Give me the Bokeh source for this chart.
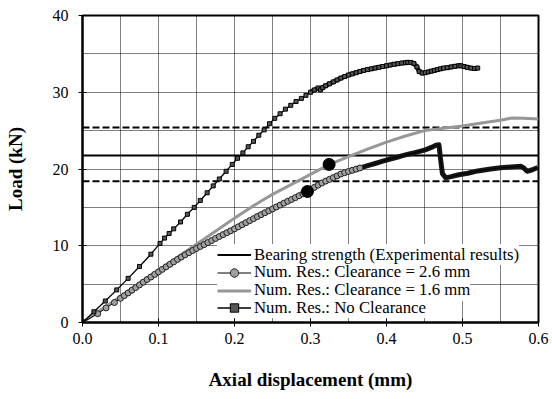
from bokeh.plotting import figure
from bokeh.models import (Range1d, FixedTicker, PrintfTickFormatter,
                          Legend, LegendItem)
from bokeh.embed import file_html
from bokeh.resources import INLINE

# ---------------- data ----------------
x_limits = [0.0, 0.6]
y_limits = [0.0, 40.0]
x_ticks = [0.0, 0.1, 0.2, 0.3, 0.4, 0.5, 0.6]
y_ticks = [0, 10, 20, 30, 40]
x_grid = [0.05, 0.1, 0.15, 0.2, 0.25, 0.3, 0.35, 0.4, 0.45, 0.5, 0.55]
y_grid = [5, 10, 15, 20, 25, 30, 35]

bearing_mean = 21.75
bearing_upper = 25.4
bearing_lower = 18.4

# Num. Res.: Clearance = 1.6 mm (grey line)
c16_x = [0, 0.025, 0.05, 0.075, 0.1, 0.125, 0.15, 0.175, 0.2, 0.225, 0.25, 0.275,
         0.3, 0.325, 0.35, 0.375, 0.4, 0.425, 0.45, 0.475, 0.5, 0.525, 0.55,
         0.565, 0.58, 0.6]
c16_y = [0, 1.7, 3.4, 5.1, 6.8, 8.5, 10.2, 11.9, 13.6, 15.2, 16.7, 18.0,
         19.3, 20.6, 21.6, 22.6, 23.5, 24.3, 25.0, 25.3, 25.6, 26.0, 26.35,
         26.65, 26.6, 26.5]

# Num. Res.: Clearance = 2.6 mm (circle markers)
c26_x = [0, 0.020, 0.031, 0.042,
         0.050, 0.055, 0.060, 0.065, 0.070, 0.075, 0.080, 0.085, 0.090, 0.095,
         0.100, 0.105, 0.110, 0.115, 0.120, 0.125, 0.130, 0.135, 0.140, 0.145,
         0.150, 0.155, 0.160, 0.165, 0.170, 0.175, 0.180, 0.185, 0.190, 0.195,
         0.200, 0.205, 0.210, 0.215, 0.220, 0.225, 0.230, 0.235, 0.240, 0.245,
         0.250, 0.255, 0.260, 0.265, 0.270, 0.275, 0.280, 0.285, 0.290, 0.295,
         0.300, 0.305, 0.310, 0.315, 0.320, 0.325, 0.330, 0.335, 0.340, 0.345,
         0.350, 0.355, 0.360, 0.365, 0.370, 0.375, 0.380, 0.385, 0.390, 0.395,
         0.400, 0.405, 0.410, 0.415, 0.420, 0.425, 0.430, 0.435, 0.440, 0.445,
         0.450, 0.455, 0.460, 0.465,
         0.469, 0.4715, 0.4736, 0.478, 0.485, 0.495, 0.507, 0.520, 0.537, 0.550,
         0.568, 0.577, 0.581, 0.585, 0.592, 0.599]
c26_y = [0, 1.15, 1.9, 2.6,
         3.15, 3.5, 3.85, 4.2, 4.55, 4.9, 5.25, 5.6, 5.93, 6.27,
         6.6, 6.92, 7.25, 7.58, 7.9, 8.22, 8.52, 8.82, 9.1, 9.38,
         9.65, 9.9, 10.15, 10.42, 10.68, 10.95, 11.2, 11.45, 11.7, 11.95,
         12.2, 12.47, 12.74, 13.0, 13.27, 13.53, 13.8, 14.05, 14.3, 14.55,
         14.8, 15.05, 15.3, 15.55, 15.8, 16.03, 16.27, 16.52, 16.76, 17.0,
         17.3, 17.6, 17.9, 18.18, 18.42, 18.65, 18.88, 19.1, 19.35, 19.52,
         19.68, 19.83, 19.98, 20.13, 20.28, 20.43, 20.58, 20.72, 20.87, 21.02,
         21.17, 21.3, 21.43, 21.56, 21.7, 21.83, 21.95, 22.07, 22.2, 22.32,
         22.45, 22.65, 22.85, 23.1,
         23.15, 21.0, 19.4, 18.85, 19.0, 19.25, 19.45, 19.75, 20.0, 20.15,
         20.3, 20.35, 20.1, 19.7, 19.9, 20.2]

# Num. Res.: No Clearance (square markers)
nc_x = [0, 0.015, 0.030, 0.045, 0.060, 0.075, 0.090, 0.102, 0.108, 0.114, 0.120,
        0.129, 0.138, 0.147, 0.155, 0.164, 0.172, 0.180, 0.189, 0.197, 0.204,
        0.211, 0.218, 0.225, 0.232, 0.239, 0.246, 0.253, 0.260, 0.267, 0.274,
        0.281, 0.288, 0.294, 0.300, 0.305, 0.310, 0.313, 0.316, 0.320, 0.325,
        0.330, 0.335, 0.340, 0.345, 0.350, 0.355, 0.360, 0.365, 0.370, 0.375,
        0.380, 0.385, 0.390, 0.395, 0.400, 0.405, 0.410, 0.415, 0.420, 0.425,
        0.428, 0.432, 0.436, 0.440, 0.443, 0.447, 0.451, 0.455, 0.459, 0.463,
        0.467, 0.471, 0.475, 0.480, 0.485, 0.490, 0.495, 0.498, 0.502, 0.506,
        0.511, 0.516, 0.520]
nc_y = [0, 1.4, 2.8, 4.25, 5.75, 7.3, 8.9, 10.3, 11.0, 11.6, 12.2,
        13.1, 14.1, 15.0, 15.9, 16.9, 17.8, 18.7, 19.7, 20.6, 21.4,
        22.1, 22.9, 23.6, 24.4, 25.1, 25.9, 26.6, 27.2, 27.8, 28.3,
        28.8, 29.2, 29.6, 30.0, 30.3, 30.55, 30.3, 30.6, 30.85, 31.1,
        31.35, 31.6, 31.85, 32.05, 32.25, 32.4, 32.55, 32.7, 32.85, 32.95,
        33.05, 33.15, 33.25, 33.35, 33.45, 33.55, 33.65, 33.72, 33.8, 33.85,
        33.9, 33.88, 33.75, 33.3, 32.7, 32.5, 32.55, 32.65, 32.75, 32.85,
        32.95, 33.05, 33.15, 33.2, 33.3, 33.38, 33.45, 33.45, 33.35, 33.25,
        33.15, 33.1, 33.15]

# highlighted points
dot_x = [0.296, 0.3245]
dot_y = [17.07, 20.6]

labels = ["Bearing strength (Experimental results)",
          "Num. Res.: Clearance = 2.6 mm",
          "Num. Res.: Clearance = 1.6 mm",
          "Num. Res.: No Clearance"]

FONT = "'Liberation Serif', 'Times New Roman', serif"

# ---------------- figure ----------------
p = figure(width=552, height=399, output_backend="svg", toolbar_location=None,
           x_range=Range1d(*x_limits), y_range=Range1d(*y_limits),
           min_border_left=82, min_border_right=14, min_border_top=15,
           min_border_bottom=77)
p.background_fill_color = "white"
p.border_fill_color = "white"
p.outline_line_color = "black"
p.outline_line_width = 2

# grids
p.xgrid.ticker = FixedTicker(ticks=x_grid)
p.ygrid.ticker = FixedTicker(ticks=y_grid)
for g in (p.xgrid, p.ygrid):
    g.grid_line_color = "black"
    g.grid_line_dash = "1 1"
    g.grid_line_width = 1

# axes
p.xaxis.ticker = FixedTicker(ticks=x_ticks)
p.yaxis.ticker = FixedTicker(ticks=y_ticks)
p.xaxis.formatter = PrintfTickFormatter(format="%.1f")
for ax in (p.xaxis, p.yaxis):
    ax.axis_line_color = "black"
    ax.axis_line_width = 2
    ax.major_tick_line_color = "black"
    ax.major_tick_line_width = 1
    ax.major_tick_in = 4
    ax.major_tick_out = 4
    ax.minor_tick_line_color = None
    ax.major_label_text_font = FONT
    ax.major_label_text_font_size = "16px"
    ax.major_label_text_color = "black"
    ax.axis_label_text_font = FONT
    ax.axis_label_text_font_size = "19px"
    ax.axis_label_text_font_style = "bold"
    ax.axis_label_text_color = "black"
p.xaxis.axis_label = "Axial displacement (mm)"
p.yaxis.axis_label = "Load (kN)"
p.xaxis.axis_label_standoff = 22
p.yaxis.axis_label_standoff = 24
p.xaxis.major_label_standoff = 6
p.yaxis.major_label_standoff = 10

# bearing strength lines
r_bear = p.line(x_limits, [bearing_mean, bearing_mean], line_color="black", line_width=2)
p.line(x_limits, [bearing_upper, bearing_upper], line_color="black", line_width=2,
       line_dash="7 3")
p.line(x_limits, [bearing_lower, bearing_lower], line_color="black", line_width=2,
       line_dash="7 3")

# clearance 1.6 mm
r16 = p.line(c16_x, c16_y, line_color="#979797", line_width=3)

# clearance 2.6 mm
dense26 = [i for i, x in enumerate(c26_x) if x >= 0.35]
p.line([c26_x[i] for i in dense26], [c26_y[i] for i in dense26],
       line_color="#161616", line_width=5, line_join="round")
r26_line = p.line(c26_x, c26_y, line_color="black", line_width=1)
sparse26 = [i for i, x in enumerate(c26_x) if x < 0.37]
p.scatter([c26_x[i] for i in sparse26], [c26_y[i] for i in sparse26], marker="circle",
          size=6, fill_color="#a0a0a0", line_color="#202020", line_width=1)
r26_leg = p.scatter([c26_x[0]], [c26_y[0]], marker="circle", size=6,
                    fill_color="#a0a0a0", line_color="#202020", line_width=1)

# no clearance
densenc = [i for i, x in enumerate(nc_x) if x >= 0.30]
p.line([nc_x[i] for i in densenc], [nc_y[i] for i in densenc],
       line_color="#111111", line_width=4.5, line_join="round")
rnc_line = p.line(nc_x, nc_y, line_color="black", line_width=1.3)
rnc_pts = p.scatter(nc_x, nc_y, marker="square", size=4, fill_color="#555555",
                    line_color="black", line_width=1)

# highlighted dots
p.scatter(dot_x, dot_y, marker="circle", size=12, fill_color="black", line_color="black")

# legend: one row per Legend so rows can be packed as tightly as the original
item_renderers = [[r_bear], [r26_line, r26_leg], [r16], [rnc_line, rnc_pts]]
row_offsets = [56.8, 39.1, 21.5, 3.8]   # screen px above frame bottom
for k in [3, 2, 1, 0]:
    lg = Legend(items=[LegendItem(label=labels[k], renderers=item_renderers[k])])
    lg.location = (135, row_offsets[k])
    lg.margin = 0
    lg.padding = 0
    lg.spacing = 0
    lg.glyph_width = 34
    lg.glyph_height = 21
    lg.label_height = 21
    lg.label_standoff = 3
    lg.label_text_font = FONT
    lg.label_text_font_size = "16.8px"
    lg.label_text_color = "black"
    lg.background_fill_color = "white"
    lg.background_fill_alpha = 1.0
    lg.border_line_color = None
    p.add_layout(lg)

open("out.html", "w").write(file_html(p, INLINE))
